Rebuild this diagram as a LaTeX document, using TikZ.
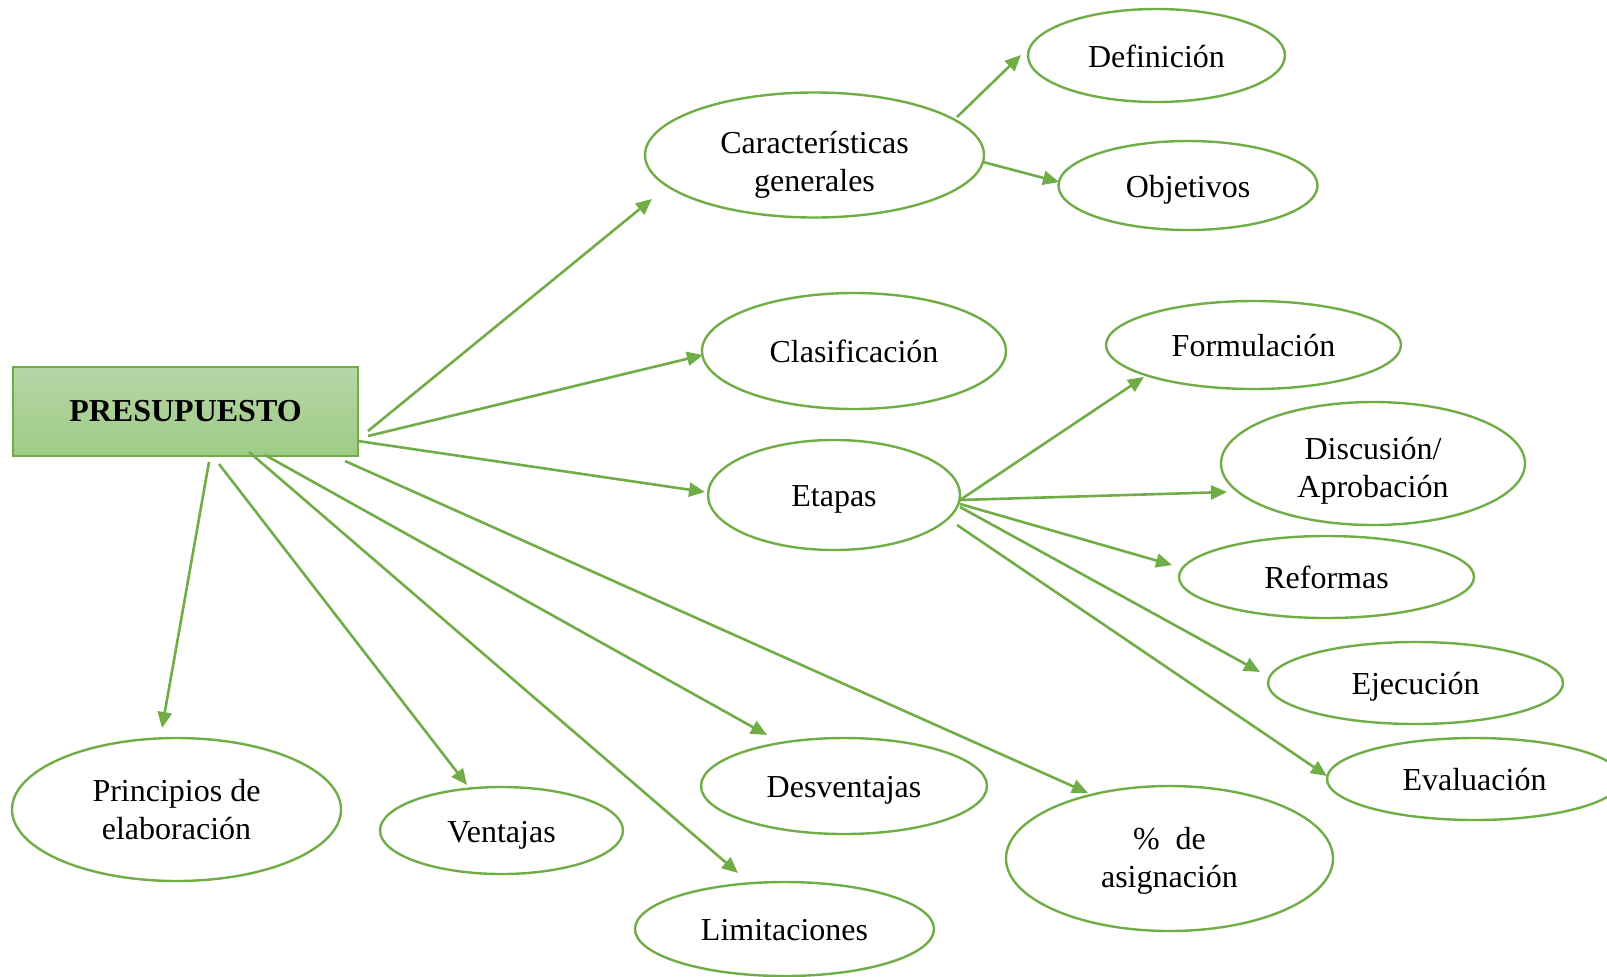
\documentclass[tikz,border=0pt]{standalone}
\usepackage{fontspec}
\setmainfont{Liberation Serif}
\usetikzlibrary{shapes.geometric,arrows.meta}
\definecolor{lgreen}{RGB}{112,173,71}
\definecolor{boxtop}{RGB}{183,214,167}
\definecolor{boxbot}{RGB}{158,203,134}
\newcommand{\onestrut}{\rule[-4pt]{0pt}{19.6pt}}
\newcommand{\topstrut}[1]{\rule{0pt}{#1}}
\newcommand{\botstrut}{\rule[-4pt]{0pt}{4pt}}
\tikzset{
  bubble/.style={ellipse, draw=lgreen, line width=1.2pt, inner sep=0pt, align=center,
    font=\fontsize{16}{19}\selectfont},
  mainbox/.style={rectangle, draw=lgreen, line width=0.6pt, top color=boxtop, bottom color=boxbot,
    minimum width=172.5pt, minimum height=44.5pt, inner sep=0pt,
    font=\fontsize{16}{19}\selectfont\bfseries},
  arr/.style={draw=lgreen, line width=1.3pt, -{Triangle[length=8pt,width=7pt]}}
}
\begin{document}
\begin{tikzpicture}[x=0.5pt,y=-0.5pt]
\useasboundingbox (0,0) rectangle (1607,976);
\node[mainbox] (pre) at (185.5,411.5) {PRESUPUESTO};
\node[bubble, minimum width=128.5pt, minimum height=46.5pt] (def) at (1156.5,55.5) {\onestrut Definición};
\node[bubble, minimum width=129.5pt, minimum height=44.5pt] (obj) at (1188,185.5) {\onestrut Objetivos};
\node[bubble, minimum width=169.5pt, minimum height=62pt] (car) at (814.5,155) {\topstrut{21.2pt}Características\\generales\botstrut};
\node[bubble, minimum width=152pt, minimum height=58pt] (cla) at (854,351) {\onestrut Clasificación};
\node[bubble, minimum width=126pt, minimum height=55pt] (eta) at (834,495) {\onestrut Etapas};
\node[bubble, minimum width=147.5pt, minimum height=44pt] (for) at (1253.5,345) {\onestrut Formulación};
\node[bubble, minimum width=152pt, minimum height=61.5pt] (dis) at (1373,463.5) {\topstrut{19pt}Discusión/\\Aprobación\botstrut};
\node[bubble, minimum width=147.5pt, minimum height=41pt] (ref) at (1326.5,577) {\onestrut Reformas};
\node[bubble, minimum width=147.5pt, minimum height=41pt] (eje) at (1415.5,683) {\onestrut Ejecución};
\node[bubble, minimum width=147.5pt, minimum height=41pt] (eva) at (1474.5,779) {\onestrut Evaluación};
\node[bubble, minimum width=164.5pt, minimum height=71.5pt] (pri) at (176.5,809.5) {\topstrut{14.9pt}Principios de\\elaboración\botstrut};
\node[bubble, minimum width=121.5pt, minimum height=43.5pt] (ven) at (501.5,830.5) {\onestrut Ventajas};
\node[bubble, minimum width=143pt, minimum height=48pt] (des) at (844,786) {\onestrut Desventajas};
\node[bubble, minimum width=149.5pt, minimum height=47pt] (lim) at (784.5,929) {\onestrut Limitaciones};
\node[bubble, minimum width=163.5pt, minimum height=72.5pt] (pct) at (1169.5,858.5) {\topstrut{14.4pt}\%\ \ de\\asignación\botstrut};

\draw[arr] ([shift={(182.5,19.5)}]pre.center) -- ([shift={(-162.5,44)}]car.center);
\draw[arr] ([shift={(182.5,24.5)}]pre.center) -- ([shift={(-151,4)}]cla.center);
\draw[arr] ([shift={(172.5,29.5)}]pre.center) -- ([shift={(-129,-3)}]eta.center);
\draw[arr] ([shift={(23.5,50.5)}]pre.center) -- ([shift={(-14.5,-81.5)}]pri.center);
\draw[arr] ([shift={(33.5,52.5)}]pre.center) -- ([shift={(-34.5,-45.5)}]ven.center);
\draw[arr] ([shift={(63.5,40.5)}]pre.center) -- ([shift={(-46.5,-56)}]lim.center);
\draw[arr] ([shift={(79.5,43.5)}]pre.center) -- ([shift={(-77,-51)}]des.center);
\draw[arr] ([shift={(159.5,49.5)}]pre.center) -- ([shift={(-81.5,-65.5)}]pct.center);
\draw[arr] ([shift={(142.5,-38)}]car.center) -- ([shift={(-135.5,-0.5)}]def.center);
\draw[arr] ([shift={(168.5,7)}]car.center) -- ([shift={(-129,-3.5)}]obj.center);
\draw[arr] ([shift={(126,5)}]eta.center) -- ([shift={(-109.5,32)}]for.center);
\draw[arr] ([shift={(126,5)}]eta.center) -- ([shift={(-146,28.5)}]dis.center);
\draw[arr] ([shift={(126,9)}]eta.center) -- ([shift={(-154.5,-12)}]ref.center);
\draw[arr] ([shift={(126,12)}]eta.center) -- ([shift={(-155.5,-11)}]eje.center);
\draw[arr] ([shift={(123,30)}]eta.center) -- ([shift={(-147.5,-3)}]eva.center);
\end{tikzpicture}
\end{document}
